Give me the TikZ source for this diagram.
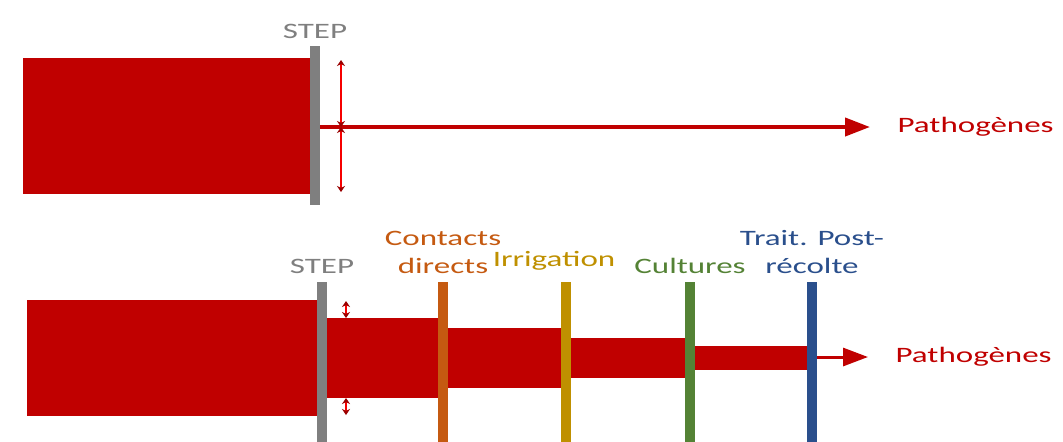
\documentclass[tikz,border=0pt]{standalone}
\usepackage{fontspec}
\setmainfont{Carlito}
\usepackage{tikz}
\usetikzlibrary{positioning,arrows.meta}
\definecolor{pathred}{HTML}{C00000}
\definecolor{stepgrey}{HTML}{7F7F7F}
\definecolor{contorange}{HTML}{C55A11}
\definecolor{irrgold}{HTML}{BF9000}
\definecolor{cultgreen}{HTML}{548235}
\definecolor{traitblue}{HTML}{2A4F8C}
\tikzset{
  bar/.style={fill=#1,draw=none,minimum width=5pt,minimum height=80pt,inner sep=0pt,outer sep=0pt},
  lbl/.style={text=#1,font=\fontsize{11}{14}\selectfont,xscale=1.5,align=center,inner sep=0pt},
  flow/.style={pathred,line width=#1,-{Triangle[length=12.5pt,width=9pt]}},
  gauge/.style={red!85!pathred,line width=0.6pt,{Stealth[length=3pt,width=4pt,color=pathred!80!black]}-{Stealth[length=3pt,width=4pt,color=pathred!80!black]}}
}

\begin{document}
\begin{tikzpicture}[x=0.5pt,y=-0.5pt]
\useasboundingbox (0,0) rectangle (1063,441);
% top
\fill[pathred] (23,58) rectangle (315,194);
\node[bar=stepgrey,minimum height=79.5pt] (s1) at (315,125.5) {}
    node[lbl=stepgrey,above=3.5pt of s1] (s1t) {STEP};
\node[lbl=pathred,anchor=west,inner xsep=9pt] (p1) at (870,127) {Pathogènes};
\draw[flow=2pt] (s1.east |- p1.west) -- (p1.west);
\coordinate (g1) at (341,60);
\coordinate (g2) at (341,127);
\coordinate (g3) at (341,192);
\draw[gauge] (g1) -- (g2);
\draw[gauge] (g2) -- (g3);
% bottom
\foreach \xa/\xb/\h in {27/322/58, 322/443/40, 443/566/30, 566/690/20, 690/812/12}
  \fill[pathred] (\xa,358-\h) rectangle (\xb,358+\h);
\foreach \i/\xb/\col in {
  1/322/stepgrey,
  2/443/contorange,
  3/566/irrgold,
  4/690/cultgreen,
  5/812/traitblue}
\node[bar=\col] (b\i) at (\xb,362) {};
\node[lbl=stepgrey,above=4pt of b1] (b1t) {STEP};
\node[lbl=contorange,above=4pt of b2] (b2t) {Contacts\\directs};
\node[lbl=irrgold,above=4pt of b3,xshift=-4pt,yshift=1.5pt] (b3t) {Irrigation};
\node[lbl=cultgreen,above=4pt of b4] (b4t) {Cultures};
\node[lbl=traitblue,above=4pt of b5] (b5t) {Trait. Post-\\récolte};
\node[lbl=pathred,anchor=west,inner xsep=9pt] (p2) at (868,357) {Pathogènes};
\draw[flow=1.5pt] (b5.east |- p2.west) -- (p2.west);
\coordinate (g4) at (346,301);
\coordinate (g5) at (346,318);
\coordinate (g6) at (346,398);
\coordinate (g7) at (346,415);
\draw[gauge] (g4) -- (g5);
\draw[gauge] (g6) -- (g7);
\end{tikzpicture}
\end{document}
